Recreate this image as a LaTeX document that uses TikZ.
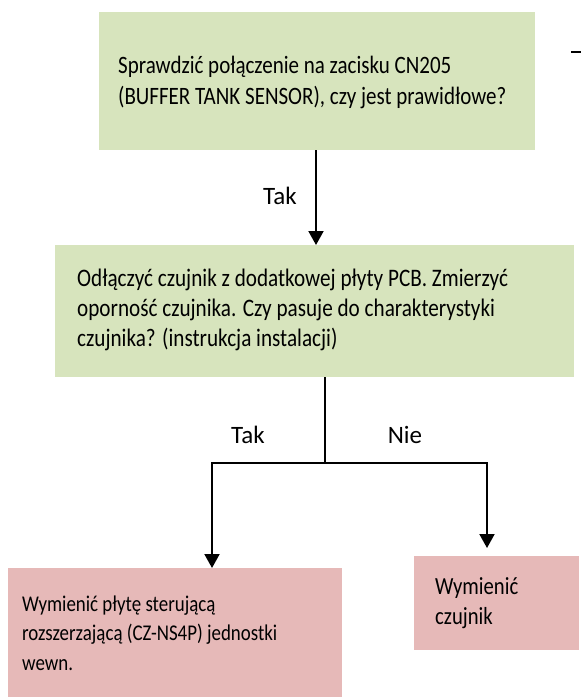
\documentclass[tikz,border=0pt]{standalone}
\usepackage{fontspec}
\setmainfont{Carlito}
\newfontfamily\boxfont[FakeStretch=0.84]{Carlito}
\usetikzlibrary{arrows.meta}
\definecolor{stepgreen}{HTML}{D7E4BD}
\definecolor{steppink}{HTML}{E6B9B8}
\begin{document}
\begin{tikzpicture}[x=1pt,y=-1pt,
  panel/.style={rectangle, anchor=north west, inner sep=0pt, outer sep=0pt, draw=none},
  check/.style={panel, fill=stepgreen},
  action/.style={panel, fill=steppink},
  txt/.style={anchor=west, inner sep=0pt, align=left, text=black},
  lbl/.style={inner sep=0pt, font=\fontsize{25}{30}\selectfont},
  flow/.style={line width=2pt, -{Triangle[width=15pt,length=14pt]}},
  wire/.style={line width=2pt}]
  % page frame
  \useasboundingbox (0,0) rectangle (581,699);

  % decision boxes
  \node[check, minimum width=436pt, minimum height=138pt] (q1) at (99,12) {};
  \node[txt, font=\boxfont\fontsize{25}{31.5}\selectfont] (q1t) at (118,82.5)
    {Sprawdzić połączenie na zacisku CN205\\(BUFFER TANK SENSOR), czy jest prawidłowe?};

  \node[check, minimum width=519pt, minimum height=132pt] (q2) at (55,245) {};
  \node[txt, font=\boxfont\fontsize{25.2}{30}\selectfont] (q2t) at (77,310)
    {Odłączyć czujnik z dodatkowej płyty PCB. Zmierzyć\\oporność czujnika. Czy pasuje do charakterystyki\\czujnika? (instrukcja instalacji)};

  % outcome boxes
  \node[action, minimum width=334pt, minimum height=129pt] (a1) at (8,568) {};
  \node[txt, font=\boxfont\fontsize{22.5}{29.5}\selectfont] (a1t) at (22,633)
    {Wymienić płytę sterującą\\rozszerzającą (CZ-NS4P) jednostki\\wewn.};

  \node[action, minimum width=165pt, minimum height=94pt] (a2) at (414,556) {};
  \node[txt, font=\boxfont\fontsize{24.6}{30}\selectfont] (a2t) at (435,603) {Wymienić\\czujnik};

  % connectors
  \draw[flow] (q1.south -| 316,0) -- (q2.north -| 316,0);
  \node[lbl] (l1) at (280,196) {Tak};

  \coordinate (split) at (325,463);
  \coordinate (leftc) at (212,463);
  \coordinate (rightc) at (487,463);
  \coordinate (rightend) at (487,548);
  \draw[wire] (q2.south -| split) -- (split);
  \draw[wire, line cap=rect] (leftc) -- (rightc);
  \draw[flow] (leftc) -- (a1.north -| leftc);
  \draw[flow] (rightc) -- (rightend);
  \node[lbl] (l2) at (248,435) {Tak};
  \node[lbl] (l3) at (405,435) {Nie};

  % short stroke at the upper right edge
  \coordinate (mk1) at (571,52);
  \coordinate (mk2) at (581,52);
  \draw[wire] (mk1) -- (mk2);
\end{tikzpicture}
\end{document}
